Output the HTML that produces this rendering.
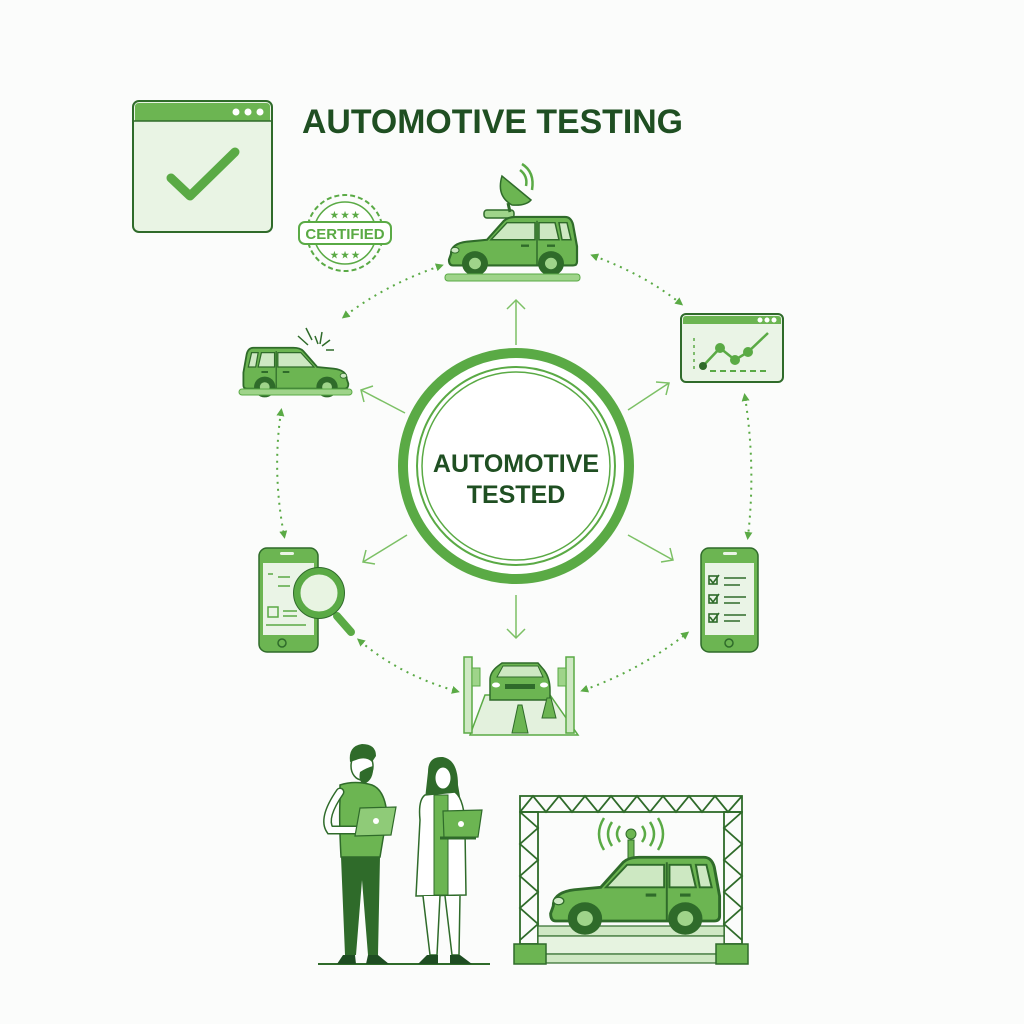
<!DOCTYPE html>
<html><head><meta charset="utf-8"><style>
html,body{margin:0;padding:0;background:#fbfcfb;}
svg{display:block}
text{font-family:"Liberation Sans",sans-serif;font-weight:bold}
</style></head><body>
<svg width="1024" height="1024" viewBox="0 0 1024 1024" xmlns="http://www.w3.org/2000/svg">
<defs>
<g id="car">
  <path d="M4,40 Q4,29 20,27 L40,25 L57,5 Q61,1 69,1 L118,1 Q124,1 126,9 L130,32 L130,48 Q130,52 126,52 L6,52 Q2,52 2,46 Z" fill="#6cb552" stroke="#2f6b2a" stroke-width="2.2"/>
  <path d="M44,25 L60,7 L88,7 L88,25 Z M92,7 L108,7 L112,25 L92,25 Z M112,7 L120,7 L124,25 L115,25 Z" fill="#cde8c2" stroke="#2f6b2a" stroke-width="1.5"/>
  <line x1="90" y1="5" x2="90" y2="52" stroke="#2f6b2a" stroke-width="1.5"/>
  <rect x="74" y="30" width="8" height="2.5" fill="#2f6b2a"/><rect x="100" y="30" width="8" height="2.5" fill="#2f6b2a"/>
  <ellipse cx="8" cy="36" rx="4" ry="3" fill="#cde8c2" stroke="#2f6b2a" stroke-width="1"/>
  <circle cx="28" cy="50" r="13" fill="#2f6b2a"/><circle cx="28" cy="50" r="6" fill="#9fd48a"/>
  <circle cx="104" cy="50" r="13" fill="#2f6b2a"/><circle cx="104" cy="50" r="6" fill="#9fd48a"/>
</g>
<marker id="ah" markerWidth="8" markerHeight="8" refX="4" refY="4" orient="auto-start-reverse" markerUnits="userSpaceOnUse"><path d="M0,0 L8,4 L0,8 Z" fill="#5aaa45"/></marker>
</defs>

<!-- top-left check window -->
<rect x="133" y="101" width="139" height="131" rx="6" fill="#e9f4e4" stroke="#2f6b2a" stroke-width="2"/>
<path d="M135,107 Q135,103 139,103 L266,103 Q270,103 270,107 L270,121 L135,121 Z" fill="#6cb552"/>
<line x1="134" y1="121" x2="271" y2="121" stroke="#2f6b2a" stroke-width="1.5"/>
<circle cx="236" cy="112" r="3.5" fill="#fff"/><circle cx="248" cy="112" r="3.5" fill="#fff"/><circle cx="260" cy="112" r="3.5" fill="#fff"/>
<path d="M171,178 L190,196 L235,152" fill="none" stroke="#5aaa45" stroke-width="9" stroke-linecap="round" stroke-linejoin="round"/>

<text x="302" y="133" font-size="34" fill="#1f4f22" textLength="381" lengthAdjust="spacingAndGlyphs">AUTOMOTIVE TESTING</text>

<!-- certified stamp -->
<circle cx="345" cy="233" r="38" fill="none" stroke="#5aaa45" stroke-width="2" stroke-dasharray="5 3"/>
<circle cx="345" cy="233" r="31" fill="#fff" stroke="#5aaa45" stroke-width="1.5"/>
<rect x="299" y="222" width="92" height="22" rx="6" fill="#fff" stroke="#5aaa45" stroke-width="2"/>
<text x="345" y="239" font-size="15" fill="#5aaa45" text-anchor="middle">CERTIFIED</text>
<text x="345" y="218" font-size="9" fill="#5aaa45" text-anchor="middle">★ ★ ★</text>
<text x="345" y="258" font-size="9" fill="#5aaa45" text-anchor="middle">★ ★ ★</text>

<!-- top car with dish -->
<rect x="484" y="210" width="30" height="8" rx="3" fill="#9fd48a" stroke="#2f6b2a" stroke-width="1.5"/>
<path d="M502,176 Q496,196 512,205 Q526,206 531,200 Z" fill="#6cb552" stroke="#2f6b2a" stroke-width="1.5"/>
<line x1="508" y1="203" x2="510" y2="212" stroke="#2f6b2a" stroke-width="3"/>
<path d="M520,170 Q528,176 526,186 M522,164 Q535,172 532,190" fill="none" stroke="#5aaa45" stroke-width="2.5"/>
<use href="#car" transform="translate(447,216) scale(1,0.95)"/>
<rect x="445" y="274" width="135" height="7" rx="3" fill="#9fd48a" stroke="#5aaa45" stroke-width="1"/>

<!-- crash car -->
<use href="#car" transform="translate(350,347) scale(-0.82,0.8)"/>
<rect x="239" y="389" width="113" height="6" rx="3" fill="#9fd48a" stroke="#5aaa45" stroke-width="1"/>
<path d="M306,328 L312,340 M315,336 L318,344 M322,332 L320,344 M330,340 L322,346 M334,350 L326,350 M298,336 L308,345" stroke="#2f6b2a" stroke-width="1.5"/>

<!-- chart window -->
<rect x="681" y="314" width="102" height="68" rx="5" fill="#eaf4e6" stroke="#2f6b2a" stroke-width="2"/>
<path d="M683,319 Q683,316 686,316 L778,316 Q781,316 781,319 L781,324 L683,324 Z" fill="#6cb552"/>
<circle cx="760" cy="320" r="2.5" fill="#fff"/><circle cx="767" cy="320" r="2.5" fill="#fff"/><circle cx="774" cy="320" r="2.5" fill="#fff"/>
<polyline points="703,366 720,348 735,360 748,352 768,333" fill="none" stroke="#5aaa45" stroke-width="2.5"/>
<circle cx="720" cy="348" r="5" fill="#5aaa45"/><circle cx="735" cy="360" r="5" fill="#5aaa45"/><circle cx="748" cy="352" r="5" fill="#5aaa45"/><circle cx="703" cy="366" r="4" fill="#2f6b2a"/>
<line x1="710" y1="371" x2="766" y2="371" stroke="#5aaa45" stroke-width="2" stroke-dasharray="6 4"/>
<line x1="694" y1="338" x2="694" y2="372" stroke="#5aaa45" stroke-width="1.5" stroke-dasharray="3 4"/>

<!-- central circle -->
<circle cx="516" cy="466" r="113" fill="#fff" stroke="#5aaa45" stroke-width="10"/>
<circle cx="516" cy="466" r="99" fill="none" stroke="#5aaa45" stroke-width="2"/>
<circle cx="516" cy="466" r="94" fill="none" stroke="#5aaa45" stroke-width="1.5"/>
<text x="516" y="472" font-size="25" fill="#1f4f22" text-anchor="middle">AUTOMOTIVE</text>
<text x="516" y="503" font-size="25" fill="#1f4f22" text-anchor="middle">TESTED</text>

<!-- radial arrows -->
<g stroke="#7cc065" stroke-width="1.5" fill="none">
<line x1="516" y1="345" x2="516" y2="300"/><path d="M507,309 L516,300 L525,309"/>
<line x1="405" y1="413" x2="361" y2="390"/><path d="M364,402 L361,390 L373,386"/>
<line x1="628" y1="410" x2="669" y2="383"/><path d="M656,382 L669,383 L666,395"/>
<line x1="407" y1="535" x2="363" y2="562"/><path d="M366,550 L363,562 L375,564"/>
<line x1="628" y1="535" x2="673" y2="560"/><path d="M670,548 L673,560 L661,562"/>
<line x1="516" y1="595" x2="516" y2="638"/><path d="M507,629 L516,638 L525,629"/>
</g>

<!-- dotted connectors -->
<g stroke="#5aaa45" stroke-width="2" fill="none" stroke-dasharray="2 5" marker-start="url(#ah)" marker-end="url(#ah)">
<path d="M440,266 Q385,285 345,316"/>
<path d="M594,256 Q645,275 680,303"/>
<path d="M281,412 Q272,472 284,535"/>
<path d="M745,397 Q756,467 748,536"/>
<path d="M360,641 Q400,675 456,691"/>
<path d="M584,690 Q640,670 686,634"/>
</g>

<!-- left phone + magnifier -->
<rect x="259" y="548" width="59" height="104" rx="8" fill="#6cb552" stroke="#2f6b2a" stroke-width="1.5"/>
<rect x="263" y="563" width="51" height="72" fill="#eaf4e6"/>
<rect x="280" y="552" width="14" height="3" rx="1.5" fill="#eaf4e6"/>
<circle cx="282" cy="643" r="4" fill="none" stroke="#2f6b2a" stroke-width="1.5"/>
<path d="M268,574 h5 M278,577 h12 M278,586 h12 M268,607 h10 v10 h-10 z M283,611 h14 M283,616 h14 M266,625 h40" stroke="#5aaa45" stroke-width="1.5" fill="none"/>
<line x1="337" y1="616" x2="351" y2="632" stroke="#5aaa45" stroke-width="8" stroke-linecap="round"/>
<circle cx="319" cy="593" r="22" fill="#e8f4e2" stroke="#5aaa45" stroke-width="7"/>
<circle cx="319" cy="593" r="25.5" fill="none" stroke="#2f6b2a" stroke-width="1"/>

<!-- right phone checklist -->
<rect x="701" y="548" width="57" height="104" rx="8" fill="#6cb552" stroke="#2f6b2a" stroke-width="1.5"/>
<rect x="705" y="563" width="49" height="72" fill="#eaf4e6"/>
<rect x="723" y="552" width="14" height="3" rx="1.5" fill="#eaf4e6"/>
<circle cx="729" cy="643" r="4" fill="none" stroke="#2f6b2a" stroke-width="1.5"/>
<g stroke="#2f6b2a" stroke-width="1.6" fill="none">
<rect x="709" y="576" width="8" height="8"/><path d="M710,579 l3,4 l6,-8"/><path d="M724,578 h22 M724,585 h16"/>
<rect x="709" y="595" width="8" height="8"/><path d="M710,598 l3,4 l6,-8"/><path d="M724,597 h22 M724,603 h16"/>
<rect x="709" y="614" width="8" height="8"/><path d="M710,617 l3,4 l6,-8"/><path d="M724,615 h22 M724,621 h16"/>
</g>

<!-- lift bottom -->
<path d="M470,735 L485,695 L550,695 L578,735 Z" fill="#e3f1dd" stroke="#5aaa45" stroke-width="1.5"/>
<rect x="464" y="657" width="8" height="76" fill="#cfe8c4" stroke="#5aaa45" stroke-width="1.5"/>
<rect x="566" y="657" width="8" height="76" fill="#cfe8c4" stroke="#5aaa45" stroke-width="1.5"/>
<rect x="472" y="668" width="8" height="18" fill="#9fd48a" stroke="#5aaa45"/>
<rect x="558" y="668" width="8" height="18" fill="#9fd48a" stroke="#5aaa45"/>
<path d="M490,700 L490,680 Q490,672 498,666 L502,663 L538,663 L544,670 Q550,678 550,690 L550,700 Z" fill="#6cb552" stroke="#2f6b2a" stroke-width="1.5"/>
<path d="M497,677 L503,666 L538,666 L543,677 Z" fill="#cde8c2" stroke="#2f6b2a" stroke-width="1"/>
<rect x="505" y="684" width="30" height="5" fill="#2f6b2a"/>
<ellipse cx="496" cy="685" rx="4" ry="2.5" fill="#fff"/><ellipse cx="544" cy="685" rx="4" ry="2.5" fill="#fff"/>
<path d="M512,733 L518,705 L522,705 L528,733 Z" fill="#6cb552" stroke="#2f6b2a"/>
<path d="M542,718 L547,698 L551,698 L556,718 Z" fill="#6cb552" stroke="#2f6b2a"/>

<!-- people -->
<line x1="318" y1="964" x2="490" y2="964" stroke="#2f6b2a" stroke-width="2"/>
<!-- man -->
<ellipse cx="362" cy="766" rx="11" ry="14" fill="#fff" stroke="#2f6b2a" stroke-width="1.5"/>
<path d="M350,762 Q348,746 362,744 Q376,744 376,756 L372,762 Q366,756 356,760 Z" fill="#2f6b2a"/>
<path d="M360,772 Q366,768 373,766 Q374,780 364,784 Q358,782 360,772 Z" fill="#2f6b2a"/>
<path d="M340,785 Q355,780 372,785 Q385,790 387,815 L380,857 L341,857 Q339,820 340,800 Z" fill="#6cb552" stroke="#2f6b2a" stroke-width="1.5"/>
<path d="M340,792 Q322,818 330,830 L362,830" fill="none" stroke="#2f6b2a" stroke-width="9" stroke-linecap="round"/>
<path d="M340,792 Q322,818 330,830 L362,830" fill="none" stroke="#fff" stroke-width="6" stroke-linecap="round"/>
<path d="M341,857 L380,857 L378,955 L368,955 L362,880 L356,955 L345,955 Z" fill="#2f6b2a"/>
<path d="M343,955 L355,955 L356,964 L337,964 Z M368,955 L378,955 L389,964 L366,964 Z" fill="#1e4d22"/>
<path d="M360,808 L396,807 L391,835 L355,836 Z" fill="#8fcb78" stroke="#2f6b2a" stroke-width="1.2"/>
<circle cx="376" cy="821" r="3" fill="#fff"/>
<!-- woman -->
<path d="M428,772 Q428,756 443,757 Q458,760 458,785 L462,808 L424,808 Q426,790 428,772 Z" fill="#2f6b2a"/>
<ellipse cx="443" cy="778" rx="8" ry="11" fill="#fff" stroke="#2f6b2a"/>
<path d="M425,795 L455,792 Q465,800 465,830 L466,895 L416,896 L420,820 Q418,800 425,795 Z" fill="#fff" stroke="#2f6b2a" stroke-width="1.5"/>
<rect x="434" y="795" width="14" height="100" fill="#6cb552" stroke="#2f6b2a"/>
<path d="M423,896 L430,955 L437,955 L440,896 M445,896 L452,955 L459,955 L460,896" fill="#fff" stroke="#2f6b2a" stroke-width="1.5"/>
<path d="M427,955 L438,955 L438,964 L418,964 Z M450,955 L460,955 L472,964 L450,964 Z" fill="#1e4d22"/>
<path d="M443,811 L482,810 L478,837 L444,838 Z" fill="#6cb552" stroke="#2f6b2a" stroke-width="1.2"/>
<line x1="440" y1="838" x2="476" y2="838" stroke="#2f6b2a" stroke-width="3"/>
<circle cx="461" cy="824" r="3" fill="#fff"/>

<!-- truss rig -->
<g stroke="#2f6b2a" stroke-width="1.8" fill="none">
<rect x="520" y="796" width="222" height="16"/>
<polyline points="520,812 533,796 546,812 559,796 572,812 585,796 598,812 611,796 624,812 637,796 650,812 663,796 676,812 689,796 702,812 715,796 728,812 742,796"/>
<rect x="520" y="812" width="18" height="132"/>
<rect x="724" y="812" width="18" height="132"/>
<polyline points="520,812 538,828 520,844 538,860 520,876 538,892 520,908 538,924 520,940"/>
<polyline points="742,812 724,828 742,844 724,860 742,876 724,892 742,908 724,924 742,940"/>
</g>
<rect x="538" y="926" width="186" height="10" fill="#cfe8c4" stroke="#2f6b2a" stroke-width="1.2"/>
<rect x="538" y="936" width="186" height="18" fill="#e6f3e0" stroke="#2f6b2a" stroke-width="1.2"/>
<rect x="538" y="954" width="186" height="9" fill="#cfe8c4" stroke="#2f6b2a" stroke-width="1.2"/>
<rect x="514" y="944" width="32" height="20" fill="#6cb552" stroke="#2f6b2a" stroke-width="1.5"/>
<rect x="716" y="944" width="32" height="20" fill="#6cb552" stroke="#2f6b2a" stroke-width="1.5"/>
<rect x="628" y="840" width="6" height="20" fill="#6cb552" stroke="#2f6b2a"/>
<circle cx="631" cy="834" r="5" fill="#6cb552" stroke="#2f6b2a"/>
<path d="M620,826 Q614,834 620,842 M612,822 Q604,834 612,846 M604,818 Q594,834 604,850 M642,826 Q648,834 642,842 M650,822 Q658,834 650,846 M658,818 Q668,834 658,850" fill="none" stroke="#5aaa45" stroke-width="2.5"/>
<use href="#car" transform="translate(548,856) scale(1.32,1.25)"/>
</svg>
</body></html>
